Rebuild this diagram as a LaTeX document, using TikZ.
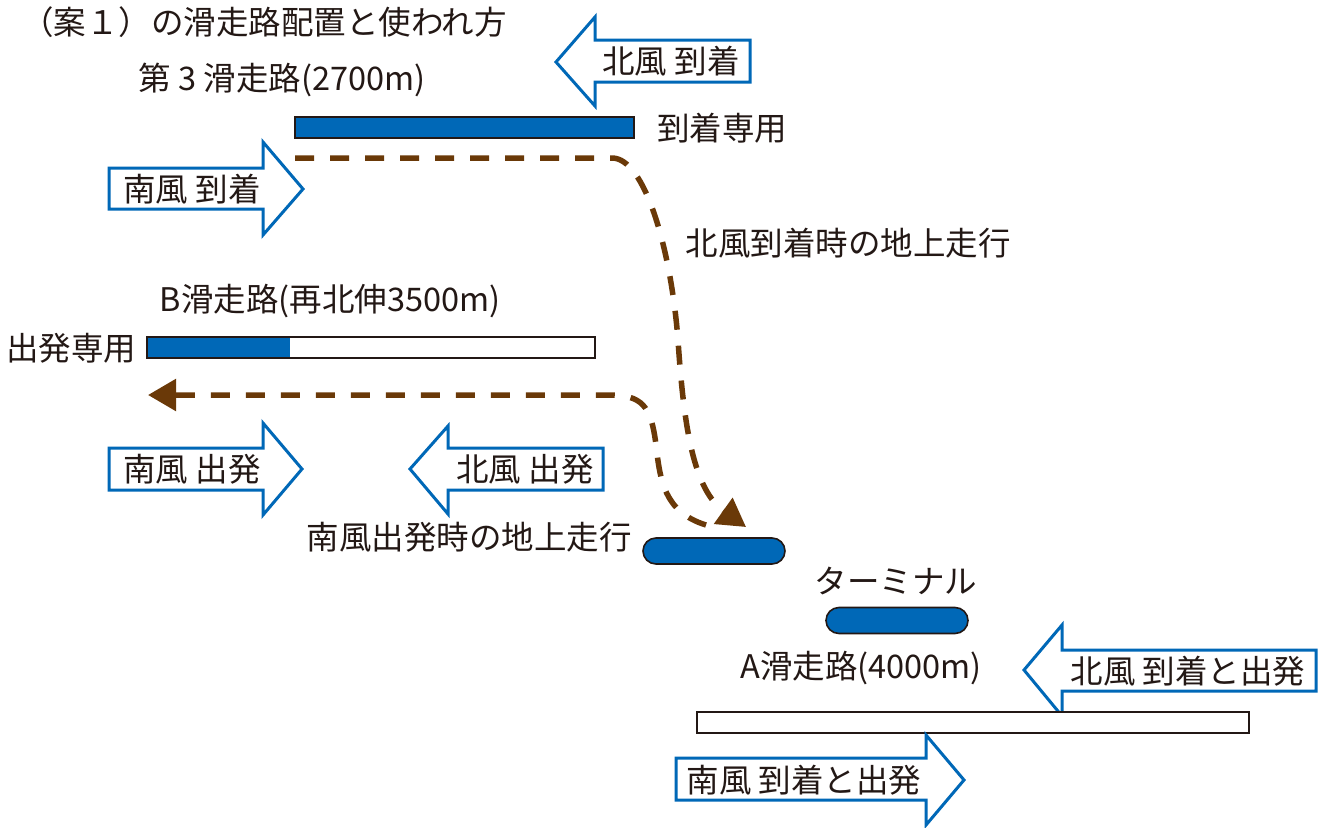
\documentclass[tikz,border=0pt]{standalone}
\usepackage{fontspec}
\setmainfont{Noto Sans CJK JP}
\usetikzlibrary{arrows.meta}
\definecolor{rwblue}{RGB}{0,104,183}
\definecolor{arblue}{RGB}{0,104,183}
\definecolor{taxi}{RGB}{106,57,8}
\definecolor{ink}{RGB}{35,24,21}
\begin{document}
\begin{tikzpicture}[x=1pt,y=-1pt,
  lbl/.style={text=ink,font=\fontsize{32.5}{36}\selectfont,inner sep=0pt},
  runway/.style={draw=ink,line width=1.6pt,inner sep=0pt,outer sep=0pt,minimum height=21pt},
  pill/.style={draw=ink,line width=1.6pt,fill=rwblue,rounded corners=13pt,inner sep=0pt,minimum width=142pt,minimum height=26pt},
  wind/.style={draw=arblue,line width=3pt,fill=white,line join=miter},
  taxiway/.style={draw=taxi,line width=5.5pt,dash pattern=on 19pt off 16pt},
  taxitip/.style={-{Triangle[length=28pt,width=31pt]}}
]
\useasboundingbox (0,0) rectangle (1322,827);
\fill[white] (0,0) rectangle (1322,827);

% title
\node[lbl] (title) at (264,22) {（案１）の滑走路配置と使われ方};

% third runway
\node[lbl] (r3lbl) at (282,80) {第 3 滑走路(2700m)};
\node[runway,fill=rwblue,minimum width=339pt] (r3) at (464.5,127.5) {};
\node[lbl] (r3use) at (722,128) {到着専用};

% north wind arrival arrow (left)
\draw[wind] (750,40) -- (595,40) -- (595,17) -- (556,62) -- (595,106) -- (595,82) -- (750,82) -- cycle;
\node[lbl] (nwarr) at (671,61) {北風 到着};

% south wind arrival arrow (right)
\draw[wind] (109,168) -- (263,168) -- (263,142) -- (303,189) -- (263,235) -- (263,209) -- (109,209) -- cycle;
\node[lbl] (swarr) at (192,189) {南風 到着};

% B runway
\node[lbl] (rBlbl) at (330,301) {B滑走路(再北伸3500m)};
\node[runway,fill=white,minimum width=448pt,
  path picture={\fill[rwblue] (path picture bounding box.north west) rectangle ([xshift=143pt]path picture bounding box.south west);}] (rB) at (371,347.5) {};
\node[lbl] (rBuse) at (71,348) {出発専用};

% wind arrows for B
\draw[wind] (109,448) -- (263,448) -- (263,423) -- (302,469) -- (263,515) -- (263,490) -- (109,490) -- cycle;
\node[lbl] (swdep) at (192,469) {南風 出発};
\draw[wind] (603,448) -- (448,448) -- (448,426) -- (410,469) -- (448,514) -- (448,490) -- (603,490) -- cycle;
\node[lbl] (nwdep) at (525,469) {北風 出発};

% taxi labels
\node[lbl] (nwtaxi) at (848,243) {北風到着時の地上走行};
\node[lbl] (swtaxi) at (469,537) {南風出発時の地上走行};

% terminals
\node[pill] (term1) at (714,551) {};
\node[lbl] (termlbl) at (896,581) {ターミナル};
\node[pill] (term2) at (897,620.5) {};

% taxi paths
\coordinate (t1s) at (295,158);
\coordinate (t1e) at (746,527);
\draw[taxiway,taxitip] (t1s) -- (612,158) .. controls (645,158) and (671,250) .. (678,340) .. controls (684,430) and (694,490) .. (t1e);
\coordinate (t2s) at (706,525);
\coordinate (t2e) at (148,395);
\draw[taxiway,taxitip] (t2s) .. controls (664,512) and (660,480) .. (656,445) .. controls (651,405) and (642,395) .. (608,395) -- (t2e);

% A runway
\node[lbl] (rAlbl) at (861,668) {A滑走路(4000m)};
\draw[wind] (1316,650) -- (1062,650) -- (1062,625) -- (1024,670) -- (1062,716) -- (1062,691) -- (1316,691) -- cycle;
\node[lbl] (nwad) at (1188,671) {北風 到着と出発};
\node[runway,fill=white,minimum width=552pt] (rA) at (973,722.5) {};
\draw[wind] (676,758) -- (926,758) -- (926,735) -- (964,780) -- (926,825) -- (926,800) -- (676,800) -- cycle;
\node[lbl] (swad) at (804,780) {南風 到着と出発};
\end{tikzpicture}
\end{document}
